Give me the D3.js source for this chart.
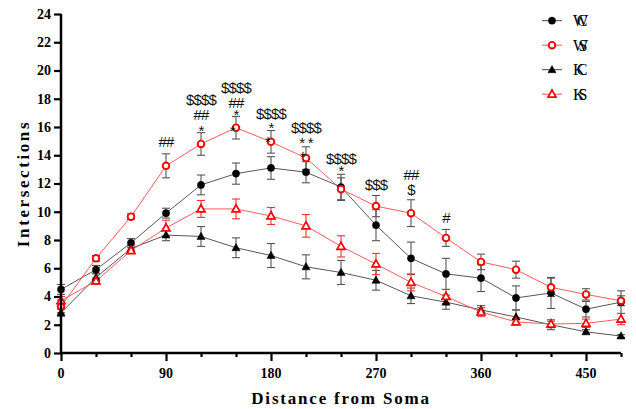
<!DOCTYPE html>
<html>
<head>
<meta charset="utf-8">
<script src="https://cdn.jsdelivr.net/npm/d3@7"></script>
<style>
  body { margin: 0; background: #fff; }
</style>
</head>
<body>
<div id="chart"></div>
<script>
// distance from soma (x) and the four groups
const distances = [0, 30, 60, 90, 120, 150, 180, 210, 240, 270, 300, 330, 360, 390, 420, 450, 480];
const wcMean = [4.5, 5.9, 7.8, 9.9, 11.9, 12.7, 13.1, 12.8, 11.75, 9.05, 6.7, 5.6, 5.3, 3.9, 4.25, 3.1, 3.6];
const wcErr = [0.35, 0.3, 0.3, 0.35, 0.7, 0.75, 0.8, 0.75, 0.9, 1.1, 1.15, 1.1, 0.95, 0.85, 1.1, 0.55, 0.8];
const wsMean = [3.3, 6.7, 9.65, 13.25, 14.8, 15.95, 14.95, 13.8, 11.6, 10.4, 9.9, 8.15, 6.45, 5.9, 4.65, 4.15, 3.7];
const wsErr = [0.45, 0.2, 0.2, 0.85, 0.8, 0.8, 0.8, 0.8, 0.8, 0.75, 0.95, 0.6, 0.55, 0.6, 0.65, 0.4, 0.35];
const kcMean = [2.85, 5.35, 7.4, 8.35, 8.25, 7.45, 6.9, 6.1, 5.7, 5.15, 4.05, 3.6, 3.05, 2.55, 2.0, 1.5, 1.2];
const kcErr = [0.25, 0.3, 0.25, 0.4, 0.7, 0.7, 0.85, 0.85, 0.85, 0.7, 0.55, 0.5, 0.3, 0.5, 0.35, 0.15, 0.1];
const ksMean = [3.7, 5.1, 7.25, 8.85, 10.2, 10.2, 9.7, 9.0, 7.55, 6.3, 5.0, 4.0, 2.9, 2.2, 2.05, 2.1, 2.4];
const ksErr = [0.3, 0.2, 0.2, 0.55, 0.6, 0.7, 0.6, 0.8, 0.75, 0.75, 0.6, 0.5, 0.3, 0.2, 0.2, 0.3, 0.4];

const groupNames = ['WC', 'WS', 'KC', 'KS'];
const xTicks = [0, 90, 180, 270, 360, 450];
const yTicks = [0, 2, 4, 6, 8, 10, 12, 14, 16, 18, 20, 22, 24];

// significance marks: distance, label, height (in intersections)
const markX = [90, 120, 120, 120, 150, 150, 150, 180, 180, 210, 210, 240, 240, 270, 300, 300, 330];
const markText = ['##', '$$$$', '##', '*', '$$$$', '##', '*', '$$$$', '*', '$$$$', '* *', '$$$$', '*', '$$$', '##', '$', '#'];
const markY = [14.95, 17.9, 16.9, 16.0, 18.75, 17.75, 17.1, 16.9, 16.2, 15.9, 15.1, 13.7, 13.15, 11.9, 12.6, 11.55, 9.6];
// loose asterisks sitting on top of the WS markers
const strayX = [150, 180, 210];
const strayY = [15.95, 15.2, 14.1];

const w = 636;
const h = 409;

const x = d3.scaleLinear().domain([0, 480]).range([61, 621]);
const y = d3.scaleLinear().domain([0, 24]).range([353, 14]);

const svg = d3.select('#chart').append('svg')
    .attr('width', w)
    .attr('height', h)
    .style('font-family', '"Liberation Serif", "Times New Roman", serif');

const series = [
  {name: 'WC', mean: wcMean, err: wcErr, color: '#000', line: '#444', bar: '#555', shape: 'circle', open: false},
  {name: 'WS', mean: wsMean, err: wsErr, color: '#ff0000', line: '#ff4a4a', bar: '#555', shape: 'circle', open: true},
  {name: 'KC', mean: kcMean, err: kcErr, color: '#000', line: '#444', bar: '#555', shape: 'triangle', open: false},
  {name: 'KS', mean: ksMean, err: ksErr, color: '#ff0000', line: '#ff4a4a', bar: '#ff3030', shape: 'triangle', open: true},
];
series.forEach((s, i) => s.name = groupNames[i]);

// draw a marker into a selection at (cx, cy)
const drawMarker = (g, s, cx, cy) => {
  if (s.shape === 'circle') {
    g.append('circle')
        .attr('cx', cx).attr('cy', cy)
        .attr('r', s.open ? 3.3 : 3.6)
        .attr('fill', s.open ? '#fff' : s.color)
        .attr('stroke', s.color)
        .attr('stroke-width', s.open ? 1.9 : 0.5);
  } else {
    const r = s.open ? 4.2 : 4.3;
    const pts = [[cx, cy - r], [cx + r * 0.95, cy + r * 0.7], [cx - r * 0.95, cy + r * 0.7]];
    g.append('path')
        .attr('d', 'M' + pts.join('L') + 'Z')
        .attr('fill', s.open ? '#fff' : s.color)
        .attr('stroke', s.color)
        .attr('stroke-width', s.open ? 1.7 : 0.5)
        .attr('stroke-linejoin', 'miter');
  }
};

// error bars first
series.forEach((s) => {
  const g = svg.append('g').attr('stroke', s.bar).attr('stroke-width', 1.1).attr('fill', 'none');
  distances.forEach((d, i) => {
    const cx = x(d);
    const top = y(s.mean[i] + s.err[i]);
    const bot = y(s.mean[i] - s.err[i]);
    g.append('line').attr('x1', cx).attr('x2', cx).attr('y1', top).attr('y2', bot);
    g.append('line').attr('x1', cx - 4).attr('x2', cx + 4).attr('y1', top).attr('y2', top);
    g.append('line').attr('x1', cx - 4).attr('x2', cx + 4).attr('y1', bot).attr('y2', bot);
  });
});

// connecting lines
const line = d3.line()
    .x((d) => x(d[0]))
    .y((d) => y(d[1]));

series.forEach((s) => {
  svg.append('path')
      .datum(distances.map((d, i) => [d, s.mean[i]]))
      .attr('d', line)
      .attr('fill', 'none')
      .attr('stroke', s.line)
      .attr('stroke-width', 0.9);
});

// markers
series.forEach((s) => {
  const g = svg.append('g');
  distances.forEach((d, i) => drawMarker(g, s, x(d), y(s.mean[i])));
});

// axes
const xAxis = svg.append('g')
    .attr('transform', 'translate(0,' + y(0) + ')')
    .call(d3.axisBottom(x)
        .tickValues(d3.range(0, 481, 30))
        .tickSize(4)
        .tickFormat(''));
xAxis.selectAll('.tick line')
    .attr('stroke-width', 2.2)
    .attr('y2', (d) => (d % 90 === 0 ? 8 : 4));
xAxis.select('.domain').attr('stroke-width', 2.5).attr('d', 'M' + x(0) + ',0H' + x(480));

svg.append('g')
    .selectAll('text')
    .data(xTicks)
    .join('text')
    .attr('x', (d) => x(d))
    .attr('y', 378)
    .attr('text-anchor', 'middle')
    .attr('font-size', 14)
    .attr('font-weight', 'bold')
    .text((d) => d);

const yAxis = svg.append('g')
    .attr('transform', 'translate(' + x(0) + ',0)')
    .call(d3.axisLeft(y)
        .tickValues(yTicks)
        .tickSize(7)
        .tickPadding(3));
yAxis.select('.domain').attr('stroke-width', 2.5).attr('d', 'M0,' + y(24) + 'V' + y(0));
yAxis.selectAll('.tick line').attr('stroke-width', 2.2);
yAxis.selectAll('.tick text')
    .attr('font-family', '"Liberation Serif", serif')
    .attr('font-size', 14)
    .attr('font-weight', 'bold')
    .attr('fill', '#000');

// axis titles
svg.append('text')
    .attr('x', (x(0) + x(480)) / 2)
    .attr('y', 404)
    .attr('text-anchor', 'middle')
    .attr('font-size', 17)
    .attr('font-weight', 'bold')
    .attr('letter-spacing', 1.8)
    .text('Distance from Soma');

svg.append('text')
    .attr('transform', 'translate(29,' + ((y(0) + y(24)) / 2) + ') rotate(-90)')
    .attr('text-anchor', 'middle')
    .attr('font-size', 17)
    .attr('font-weight', 'bold')
    .attr('letter-spacing', 2.6)
    .text('Intersections');

// significance annotations
const markShift = (t) => (t.indexOf('*') >= 0 ? 8.6 : (t.indexOf('$') >= 0 ? 4.8 : 5.4));
svg.append('g')
    .selectAll('text')
    .data(markText)
    .join('text')
    .attr('x', (d, i) => x(markX[i]))
    .attr('y', (d, i) => y(markY[i]) + markShift(d))
    .attr('text-anchor', 'middle')
    .attr('font-family', '"Liberation Sans", Arial, sans-serif')
    .attr('font-size', 15)
    .attr('letter-spacing', -0.8)
    .attr('fill', '#111')
    .text((d) => d);

svg.append('g')
    .selectAll('text')
    .data(strayX)
    .join('text')
    .attr('x', (d) => x(d) - 3)
    .attr('y', (d, i) => y(strayY[i]) + 8.6)
    .attr('text-anchor', 'middle')
    .attr('font-family', '"Liberation Sans", Arial, sans-serif')
    .attr('font-size', 15)
    .attr('fill', '#111')
    .text('*');

// legend
const legend = svg.append('g');
series.forEach((s, i) => {
  const ly = 20.7 + i * 24.5;
  legend.append('line')
      .attr('x1', 542).attr('x2', 562)
      .attr('y1', ly).attr('y2', ly)
      .attr('stroke', s.line)
      .attr('stroke-width', 1);
  drawMarker(legend, s, 552, ly);
  legend.append('text')
      .attr('x', 573)
      .attr('y', ly + 5.5)
      .attr('font-size', 16)
      .attr('textLength', 14.5)
      .attr('lengthAdjust', 'spacing')
      .text(s.name);
});
</script>
</body>
</html>
